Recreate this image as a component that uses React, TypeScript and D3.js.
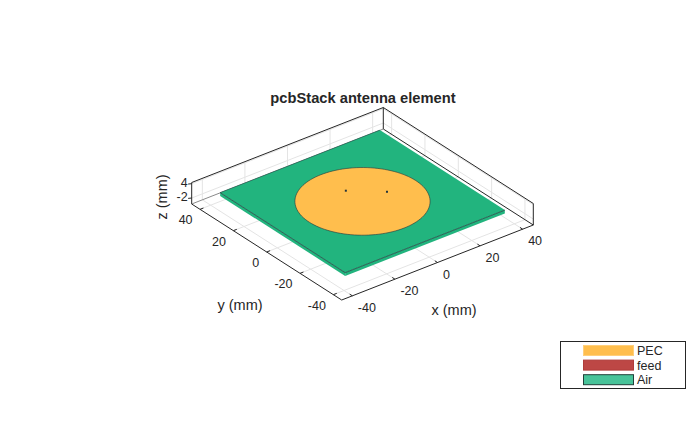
import React from 'react';
import * as d3 from 'd3';

const xTicks = [-40, -20, 0, 20, 40];
const yTicks = [40, 20, 0, -20, -40];
const zTicks = [4, -2];
const axisLimit = 45;
const zLimit = 4.5;
const boardHalf = 37.5;
const boardBottom = -0.4;
const boardTop = 1;
const patchRadius = 25;
const feedPoints = [[0, 10], [11.5, 0]];
const legendItems = ['PEC', 'feed', 'Air'];
const legendColors = ['#ffbe4d', '#bd4745', '#48c399'];
const legendEdges = ['#ffcf7a', '#b03c3a', '#22403a'];

const ink = '#262626';
const gridColor = '#e4e4e4';
const boardColor = '#22b47e';
const patchColor = '#ffbe4d';
const edgeColor = '#24343a';

// the view is orthographic, so each data axis moves the screen point along a fixed vector
const sx = d3.scaleLinear().domain([-axisLimit, axisLimit]).range([0, 191.6]);
const sxY = d3.scaleLinear().domain([-axisLimit, axisLimit]).range([0, -75]);
const sy = d3.scaleLinear().domain([-axisLimit, axisLimit]).range([0, -150]);
const syY = d3.scaleLinear().domain([-axisLimit, axisLimit]).range([0, -96]);
const sz = d3.scaleLinear().domain([-zLimit, zLimit]).range([0, -21.5]);

const project = (x: number, y: number, z: number): [number, number] => [
  341.7 + sx(x) + sy(y),
  300 + sxY(x) + syY(y) + sz(z),
];

const line = d3.line();
const seg = (a: [number, number, number], b: [number, number, number]) =>
  line([project(a[0], a[1], a[2]), project(b[0], b[1], b[2])]) || '';
const poly = (pts: [number, number, number][]) =>
  (line(pts.map(p => project(p[0], p[1], p[2]))) || '') + 'Z';

const L = axisLimit;
const Z = zLimit;
const B = boardHalf;
const circlePts = d3.range(0, 361, 3).map(a => {
  const t = (a * Math.PI) / 180;
  return [patchRadius * Math.cos(t), patchRadius * Math.sin(t), boardTop] as [number, number, number];
});

const App: React.FC = () => {
  const font = { fontFamily: '"Liberation Sans", Arial, sans-serif', fill: ink };
  return (
    <svg width={700} height={421} style={{ position: 'absolute', left: 0, top: 0 }}>
      <rect width={700} height={421} fill="#fff" />
      <g stroke={gridColor} strokeWidth={1} fill="none">
        {xTicks.map(t => (
          <g key={`gx${t}`}>
            <path d={seg([t, -L, -Z], [t, L, -Z])} />
            <path d={seg([t, L, -Z], [t, L, Z])} />
          </g>
        ))}
        {yTicks.map(t => (
          <g key={`gy${t}`}>
            <path d={seg([-L, t, -Z], [L, t, -Z])} />
            <path d={seg([L, t, -Z], [L, t, Z])} />
          </g>
        ))}
        {zTicks.map(t => (
          <g key={`gz${t}`}>
            <path d={seg([-L, L, t], [L, L, t])} />
            <path d={seg([L, L, t], [L, -L, t])} />
          </g>
        ))}
      </g>

      <g stroke={ink} strokeWidth={1} fill="none">
        <path d={seg([-L, L, Z], [L, L, Z])} />
        <path d={seg([L, L, Z], [L, -L, Z])} />
        <path d={seg([-L, L, -Z], [-L, L, Z])} />
        <path d={seg([L, L, -Z], [L, L, Z])} />
        <path d={seg([L, -L, -Z], [L, -L, Z])} />
        <path d={seg([L, L, -Z], [L, -L, -Z])} />
        <path d={seg([-L, L, -Z], [L, L, -Z])} stroke="#8a8a8a" />
        <path d={seg([-L, -L, -Z], [L, -L, -Z])} />
        <path d={seg([-L, -L, -Z], [-L, L, -Z])} />
        {xTicks.map(t => (
          <path key={`tx${t}`} d={seg([t, -L, -Z], [t, -L + 1.6, -Z])} />
        ))}
        {yTicks.map(t => (
          <path key={`ty${t}`} d={seg([-L, t, -Z], [-L + 1.6, t, -Z])} />
        ))}
        {zTicks.map(t => (
          <path key={`tz${t}`} d={seg([-L, L, t], [-L - 1.2, L + 0.6, t])} />
        ))}
      </g>

      <path
        d={poly([[-B, -B, boardBottom], [B, -B, boardBottom], [B, -B, boardTop], [-B, -B, boardTop]])}
        fill={boardColor}
      />
      <path
        d={poly([[-B, -B, boardBottom], [-B, B, boardBottom], [-B, B, boardTop], [-B, -B, boardTop]])}
        fill={boardColor}
      />
      <path d={poly([[-B, -B, boardTop], [B, -B, boardTop], [B, B, boardTop], [-B, B, boardTop]])} fill={boardColor} />
      <path d={seg([-B, B, boardTop], [-B, -B, boardTop])} stroke={edgeColor} strokeWidth={0.7} />
      <path d={seg([-B, -B, boardTop], [B, -B, boardTop])} stroke={edgeColor} strokeWidth={0.7} />
      <path d={seg([-B, B, boardTop], [B, B, boardTop])} stroke={edgeColor} strokeWidth={0.5} />

      <path d={poly(circlePts)} fill={patchColor} stroke={edgeColor} strokeWidth={0.6} />
      {feedPoints.map((p, i) => {
        const [cx, cy] = project(p[0], p[1], boardTop);
        return <rect key={i} x={cx - 1} y={cy - 1} width={2} height={2} fill={edgeColor} />;
      })}

      <g {...font} fontSize={12.5}>
        {xTicks.map(t => {
          const [px, py] = project(t, -L, -Z);
          return <text key={t} x={px + 5.5} y={py + 16}>{t}</text>;
        })}
        {yTicks.map(t => {
          const [px, py] = project(-L, t, -Z);
          return <text key={t} x={px - 7.5} y={py + 15} textAnchor="end">{t}</text>;
        })}
        {zTicks.map(t => {
          const [px, py] = project(-L, L, t);
          return <text key={t} x={px - 4} y={py + 3} textAnchor="end">{t}</text>;
        })}
      </g>

      <g {...font} fontSize={14.5} textAnchor="middle">
        <text x={454} y={315}>x (mm)</text>
        <text x={240} y={310}>y (mm)</text>
        <text transform="translate(167,197) rotate(-90)">z (mm)</text>
      </g>
      <text {...font} x={363} y={103} fontSize={14.7} fontWeight="bold" textAnchor="middle">
        pcbStack antenna element
      </text>

      <rect x={560.5} y={341.5} width={125} height={47} fill="#fff" stroke={ink} strokeWidth={1} />
      {legendItems.map((name, i) => (
        <g key={name}>
          <rect
            x={583.5}
            y={345.5 + i * 14.6}
            width={50}
            height={10}
            fill={legendColors[i]}
            stroke={legendEdges[i]}
            strokeWidth={1}
          />
          <text {...font} x={637} y={355 + i * 14.6} fontSize={12.5}>{name}</text>
        </g>
      ))}
    </svg>
  );
};

export default App;
